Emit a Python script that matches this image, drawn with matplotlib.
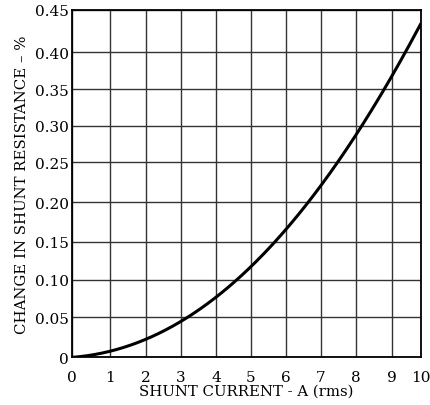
import matplotlib
matplotlib.use("Agg")
import matplotlib.pyplot as plt
import numpy as np

current = [0, 1, 2, 3, 4, 5, 6, 7, 8, 9, 10]
change = [0.0, 0.007, 0.023, 0.045, 0.077, 0.116, 0.164, 0.223, 0.289, 0.365, 0.435]
xticks = list(range(0, 11))
yticks = [0, 0.05, 0.10, 0.15, 0.20, 0.25, 0.30, 0.35, 0.40, 0.45]
ylabels = ["0", "0.05", "0.10", "0.15", "0.20", "0.25", "0.30", "0.35", "0.40", "0.45"]

# layout: the printed grid of the original is slightly irregular (pixel positions)
x_grid_px = [71.7, 110, 145.7, 180.7, 216, 250.7, 285.7, 321, 356.3, 391.7, 421]
y_grid_px = [358.3, 318.3, 280.7, 242.7, 203.3, 163.3, 126.7, 90, 53.3, 11]

W, H = 431, 406
left, right = x_grid_px[0], x_grid_px[-1]
bottom, top = y_grid_px[0], y_grid_px[-1]
xfrac = [(p - left) / (right - left) for p in x_grid_px]
yfrac = [(bottom - p) / (bottom - top) for p in y_grid_px]

def xf(v):
    return np.interp(v, xticks, xfrac)
def xi(v):
    return np.interp(v, xfrac, xticks)
def yf(v):
    return np.interp(v, yticks, yfrac)
def yi(v):
    return np.interp(v, yfrac, yticks)

plt.rcParams['font.family'] = ['DejaVu Serif']
fig = plt.figure(figsize=(W / 100, H / 100), dpi=100)
ax = fig.add_axes([left / W, 1 - bottom / H, (right - left) / W, (bottom - top) / H])
ax.set_xscale('function', functions=(xf, xi))
ax.set_yscale('function', functions=(yf, yi))

# smooth the curve in the drawn (scaled) space, then map back to data
u = xf(np.array(current, float))
v = yf(np.array(change, float))
coef = np.polyfit(u, v, 4)
us = np.linspace(0, 1, 300)
vs = np.polyval(coef, us)
vs[0] = 0
ax.plot(xi(us), yi(vs), color='black', lw=2.2, solid_capstyle='butt', zorder=3)

ax.set_xlim(0, 10)
ax.set_ylim(0, 0.45)
ax.set_xticks(xticks)
ax.set_xticklabels([str(t) for t in xticks])
ax.set_yticks(yticks)
ax.set_yticklabels(ylabels)
ax.minorticks_off()
ax.grid(True, color='#333333', lw=1.0)
ax.tick_params(axis='both', length=0, labelsize=11)
ax.tick_params(axis='x', pad=9)
ax.tick_params(axis='y', pad=2)
for s in ax.spines.values():
    s.set_linewidth(1.3)
ax.set_xlabel("SHUNT CURRENT - A (rms)", fontsize=10.7, labelpad=0)
ax.set_ylabel("CHANGE IN SHUNT RESISTANCE – %", fontsize=10.7, labelpad=4)
fig.savefig("out.png", dpi=100)
